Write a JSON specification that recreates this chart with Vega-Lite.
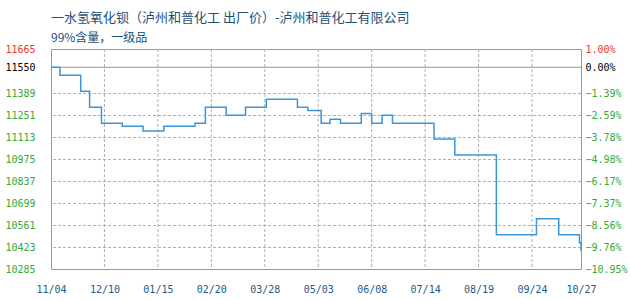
{
  "$schema": "https://vega.github.io/schema/vega-lite/v6.json",
  "width": 530,
  "height": 220,
  "autosize": "none",
  "padding": {"left": 51, "top": 49, "right": 49, "bottom": 31},
  "background": "white",
  "config": {
    "view": {"stroke": "#999999", "strokeWidth": 1},
    "axis": {"domain": false, "ticks": false, "title": null, "grid": false}
  },
  "title": {
    "text": "一水氢氧化钡（泸州和普化工  出厂价）-泸州和普化工有限公司",
    "subtitle": "99%含量，一级品",
    "anchor": "start",
    "frame": "group",
    "font": "Noto Sans CJK SC",
    "fontSize": 13,
    "fontWeight": "normal",
    "color": "#1b4f7a",
    "subtitleFont": "Noto Sans CJK SC",
    "subtitleFontSize": 12,
    "subtitleColor": "#1b4f7a",
    "subtitlePadding": 8,
    "offset": 0
  },
  "datasets": {
    "price": [
      {"date": "2024/11/04", "price": 11550},
      {"date": "2024/11/10", "price": 11500},
      {"date": "2024/11/24", "price": 11400},
      {"date": "2024/11/30", "price": 11300},
      {"date": "2024/12/08", "price": 11200},
      {"date": "2024/12/22", "price": 11180},
      {"date": "2025/01/05", "price": 11150},
      {"date": "2025/01/19", "price": 11180},
      {"date": "2025/02/09", "price": 11200},
      {"date": "2025/02/16", "price": 11300},
      {"date": "2025/03/02", "price": 11250},
      {"date": "2025/03/15", "price": 11300},
      {"date": "2025/03/29", "price": 11350},
      {"date": "2025/04/19", "price": 11300},
      {"date": "2025/04/26", "price": 11280},
      {"date": "2025/05/05", "price": 11200},
      {"date": "2025/05/11", "price": 11225},
      {"date": "2025/05/18", "price": 11200},
      {"date": "2025/06/01", "price": 11260},
      {"date": "2025/06/08", "price": 11200},
      {"date": "2025/06/15", "price": 11250},
      {"date": "2025/06/22", "price": 11200},
      {"date": "2025/07/20", "price": 11100},
      {"date": "2025/08/03", "price": 11000},
      {"date": "2025/08/31", "price": 10500},
      {"date": "2025/09/27", "price": 10600},
      {"date": "2025/10/12", "price": 10500},
      {"date": "2025/10/26", "price": 10450},
      {"date": "2025/10/27", "price": 10400}
    ],
    "xgrid": [
      {"date": "2024/12/10"}, {"date": "2025/01/15"}, {"date": "2025/02/20"},
      {"date": "2025/03/28"}, {"date": "2025/05/03"}, {"date": "2025/06/08"},
      {"date": "2025/07/14"}, {"date": "2025/08/19"}, {"date": "2025/09/24"}
    ],
    "ygrid": [
      {"price": 10423}, {"price": 10561}, {"price": 10699}, {"price": 10837},
      {"price": 10975}, {"price": 11113}, {"price": 11251}, {"price": 11389}
    ],
    "base": [{"price": 11550}]
  },
  "layer": [
    {
      "data": {"name": "xgrid"},
      "mark": {"type": "rule", "color": "#b0b0b0", "strokeWidth": 1, "strokeDash": [3, 2]},
      "encoding": {
        "x": {
          "field": "date",
          "type": "temporal",
          "scale": {"domain": [{"year": 2024, "month": 11, "date": 4}, {"year": 2025, "month": 10, "date": 27}]}
        }
      }
    },
    {
      "data": {"name": "ygrid"},
      "mark": {"type": "rule", "color": "#b0b0b0", "strokeWidth": 1, "strokeDash": [3, 2], "yOffset": 0.5},
      "encoding": {
        "y": {
          "field": "price",
          "type": "quantitative",
          "scale": {"domain": [10285, 11665], "nice": false, "zero": false},
          "axis": null
        }
      }
    },
    {
      "data": {"name": "base"},
      "mark": {"type": "rule", "color": "#999999", "strokeWidth": 1},
      "encoding": {
        "y": {
          "field": "price",
          "type": "quantitative",
          "scale": {"domain": [10285, 11665], "nice": false, "zero": false},
          "axis": {
            "orient": "right",
            "values": [10285, 10423, 10561, 10699, 10837, 10975, 11113, 11251, 11389, 11550, 11665],
            "labelExpr": "format(datum.value / 11550 - 1, '.2%')",
            "labelFont": "DejaVu Sans Mono",
            "labelFontSize": 10,
            "labelPadding": 4,
            "labelFlush": false,
            "labelOverlap": false,
            "labelColor": {"condition": [{"test": "datum.value == 11665", "value": "#e8382f"}, {"test": "datum.value == 11550", "value": "#000000"}], "value": "#33aa33"}
          }
        }
      }
    },
    {
      "data": {"name": "price"},
      "mark": {"type": "line", "interpolate": "step-after", "color": "#3a96d8", "strokeWidth": 1.5},
      "encoding": {
        "x": {
          "field": "date",
          "type": "temporal",
          "scale": {"domain": [{"year": 2024, "month": 11, "date": 4}, {"year": 2025, "month": 10, "date": 27}]},
          "axis": {
            "values": [
              {"year": 2024, "month": 11, "date": 4},
              {"year": 2024, "month": 12, "date": 10},
              {"year": 2025, "month": 1, "date": 15},
              {"year": 2025, "month": 2, "date": 20},
              {"year": 2025, "month": 3, "date": 28},
              {"year": 2025, "month": 5, "date": 3},
              {"year": 2025, "month": 6, "date": 8},
              {"year": 2025, "month": 7, "date": 14},
              {"year": 2025, "month": 8, "date": 19},
              {"year": 2025, "month": 9, "date": 24},
              {"year": 2025, "month": 10, "date": 27}
            ],
            "format": "%m/%d",
            "labelAngle": 0,
            "labelFont": "DejaVu Sans Mono",
            "labelFontSize": 10,
            "labelColor": "#1a5a8e",
            "labelPadding": 15,
            "labelFlush": false,
            "labelOverlap": false
          }
        },
        "y": {
          "field": "price",
          "type": "quantitative",
          "scale": {"domain": [10285, 11665], "nice": false, "zero": false},
          "axis": {
            "orient": "left",
            "values": [10285, 10423, 10561, 10699, 10837, 10975, 11113, 11251, 11389, 11550, 11665],
            "labelFont": "DejaVu Sans Mono",
            "labelFontSize": 10,
            "labelPadding": 16,
            "labelFlush": false,
            "labelOverlap": false,
            "format": "d",
            "labelColor": {"condition": [{"test": "datum.value == 11665", "value": "#e8382f"}, {"test": "datum.value == 11550", "value": "#000000"}], "value": "#33aa33"}
          }
        }
      }
    }
  ],
  "resolve": {"scale": {"y": "independent"}, "axis": {"y": "independent"}}
}
